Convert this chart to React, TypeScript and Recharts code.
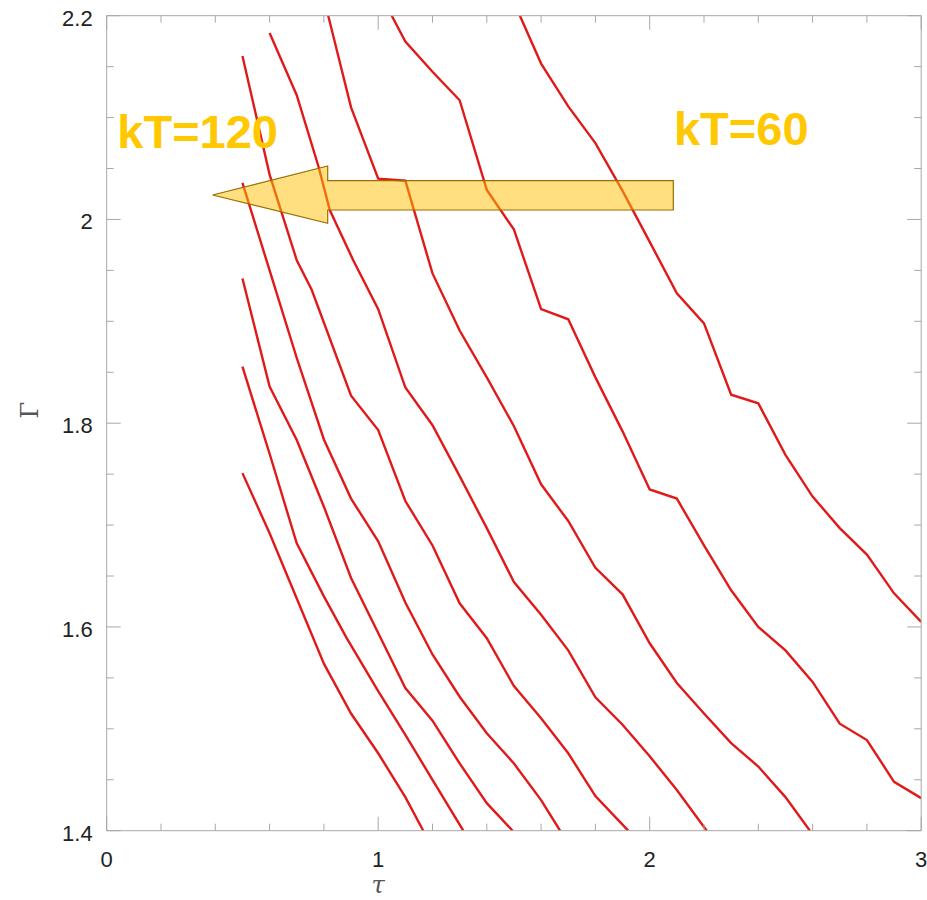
import React from 'react';
import { LineChart, Line, XAxis, YAxis, ReferenceArea, ReferenceDot } from 'recharts';

// ---------- data (tau, Gamma) ----------
const curveKT120: number[][] = [[0.5,1.751],[0.6,1.692],[0.7,1.628],[0.8,1.564],[0.9,1.515],[1.0,1.476],[1.1,1.433],[1.166,1.4]];
const curveKT112: number[][] = [[0.5,1.8555],[0.6,1.77],[0.7,1.682],[0.8,1.63],[0.884,1.589],[1.0,1.537],[1.1,1.494],[1.2,1.45],[1.3135,1.4]];
const curveKT105: number[][] = [[0.5,1.942],[0.6,1.836],[0.7,1.7835],[0.8,1.718],[0.9,1.648],[1.0,1.594],[1.1,1.54],[1.2,1.508],[1.3,1.466],[1.4,1.427],[1.495,1.4]];
const curveKT97: number[][] = [[0.5,2.036],[0.6,1.95],[0.7,1.864],[0.8,1.784],[0.9,1.726],[1.0,1.684],[1.1,1.624],[1.2,1.573],[1.3,1.5315],[1.4,1.4956],[1.5,1.466],[1.6,1.43],[1.67,1.4]];
const curveKT90: number[][] = [[0.5,2.1604],[0.6,2.044],[0.7,1.96],[0.755,1.931],[0.9,1.827],[1.0,1.7933],[1.1,1.7236],[1.2,1.68],[1.3,1.6232],[1.4,1.5889],[1.5,1.542],[1.6,1.5103],[1.7,1.476],[1.8,1.434],[1.921,1.4]];
const curveKT82: number[][] = [[0.6,2.183],[0.7,2.122],[0.78,2.052],[0.822,2.009],[0.908,1.96],[1.0,1.912],[1.1,1.835],[1.2,1.798],[1.3,1.748],[1.4,1.697],[1.5,1.644],[1.6,1.612],[1.7,1.577],[1.8,1.531],[1.9,1.504],[2.0,1.473],[2.1,1.44],[2.21,1.4]];
const curveKT75: number[][] = [[0.816,2.2],[0.9,2.11],[1.0,2.04],[1.1,2.038],[1.2,1.947],[1.3,1.891],[1.4,1.845],[1.5,1.797],[1.6,1.74],[1.7,1.704],[1.8,1.658],[1.9,1.632],[2.0,1.584],[2.1,1.545],[2.2,1.515],[2.3,1.486],[2.4,1.463],[2.5,1.433],[2.59,1.4]];
const curveKT67: number[][] = [[1.05,2.2],[1.1,2.1745],[1.2,2.145],[1.3,2.117],[1.4,2.029],[1.5,1.99],[1.6,1.912],[1.7,1.902],[1.8,1.845],[1.9,1.792],[2.0,1.735],[2.1,1.726],[2.2,1.68],[2.3,1.636],[2.4,1.6],[2.5,1.577],[2.6,1.546],[2.7,1.505],[2.8,1.489],[2.9,1.448],[3.0,1.432]];
const curveKT60: number[][] = [[1.522,2.2],[1.6,2.153],[1.7,2.111],[1.8,2.075],[1.9,2.028],[2.0,1.978],[2.1,1.9275],[2.2,1.898],[2.3,1.828],[2.4,1.8195],[2.5,1.769],[2.6,1.728],[2.7,1.697],[2.8,1.671],[2.9,1.633],[3.0,1.605]];

const curves = [curveKT120, curveKT112, curveKT105, curveKT97, curveKT90, curveKT82, curveKT75, curveKT67, curveKT60];

const xTicks = [0, 0.2, 0.4, 0.6, 0.8, 1, 1.2, 1.4, 1.6, 1.8, 2, 2.2, 2.4, 2.6, 2.8, 3];
const xMajor = [0, 1, 2, 3];
const xLabels = ['0', '1', '2', '3'];
const yTicks = [1.4, 1.45, 1.5, 1.55, 1.6, 1.65, 1.7, 1.75, 1.8, 1.85, 1.9, 1.95, 2, 2.05, 2.1, 2.15, 2.2];
const yMajor = [1.4, 1.6, 1.8, 2, 2.2];
const yLabels = ['1.4', '1.6', '1.8', '2', '2.2'];

// arrow annotation (data units)
const arrowTau = { tip: 0.39, headBase: 0.814, end: 2.087 };
const arrowGamma = { tip: 2.024, headTop: 2.0525, headBottom: 1.9962, shaftTop: 2.0382, shaftBottom: 2.0093 };
const textAnnotations = [
  { tau: 0.039, gamma: 2.0698, text: 'kT=120' },
  { tau: 2.0895, gamma: 2.073, text: 'kT=60' },
];

const FRAME = '#a8a8a8';
const LABEL = '#222';
const FONT = '"Liberation Sans", Arial, Helvetica, sans-serif';

const idx = (arr: number[], v: number) => arr.findIndex((m) => Math.abs(m - v) < 1e-6);

const BottomTick = (p: any) => {
  const { x, y, payload } = p;
  const i = idx(xMajor, payload.value);
  const major = i >= 0;
  return (
    <g>
      <line x1={x} x2={x} y1={y} y2={y - (major ? 14 : 7)} stroke={FRAME} strokeWidth={1} />
      {major && (
        <text x={x} y={y + 36} textAnchor="middle" fontSize={22} fontFamily={FONT} fill={LABEL}>{xLabels[i]}</text>
      )}
    </g>
  );
};
const TopTick = (p: any) => {
  const { x, payload, plotTop } = p;
  const major = idx(xMajor, payload.value) >= 0;
  return <line x1={x} x2={x} y1={plotTop} y2={plotTop + (major ? 14 : 7)} stroke={FRAME} strokeWidth={1} />;
};
const LeftTick = (p: any) => {
  const { x, y, payload } = p;
  const i = idx(yMajor, payload.value);
  const major = i >= 0;
  return (
    <g>
      <line x1={x} x2={x + (major ? 14 : 7)} y1={y} y2={y} stroke={FRAME} strokeWidth={1} />
      {major && (
        <text x={x - 14} y={y + 10} textAnchor="end" fontSize={22} fontFamily={FONT} fill={LABEL}>{yLabels[i]}</text>
      )}
    </g>
  );
};
const RightTick = (p: any) => {
  const { y, payload, plotRight } = p;
  const major = idx(yMajor, payload.value) >= 0;
  return <line x1={plotRight} x2={plotRight - (major ? 14 : 7)} y1={y} y2={y} stroke={FRAME} strokeWidth={1} />;
};

const ArrowShape = (p: any) => {
  const { x, y, width, height } = p;
  const x1 = arrowTau.tip, x2 = arrowTau.end;
  const yTop = arrowGamma.headTop, yBot = arrowGamma.headBottom;
  const px = (v: number) => x + ((v - x1) / (x2 - x1)) * width;
  const py = (v: number) => y + ((yTop - v) / (yTop - yBot)) * height;
  const pts = [
    [px(arrowTau.tip), py(arrowGamma.tip)],
    [px(arrowTau.headBase), py(arrowGamma.headTop)],
    [px(arrowTau.headBase), py(arrowGamma.shaftTop)],
    [px(arrowTau.end), py(arrowGamma.shaftTop)],
    [px(arrowTau.end), py(arrowGamma.shaftBottom)],
    [px(arrowTau.headBase), py(arrowGamma.shaftBottom)],
    [px(arrowTau.headBase), py(arrowGamma.headBottom)],
  ];
  return (
    <polygon
      points={pts.map((q) => q.join(',')).join(' ')}
      fill="rgba(255,192,0,0.5)"
      stroke="#9a6e00"
      strokeWidth={1.2}
    />
  );
};

const makeTextShape = (text: string) => (p: any) => (
  <text x={p.cx} y={p.cy} fontSize={47} fontWeight="bold" fontFamily={FONT} fill="#FFC800">{text}</text>
);

const XTitle = (p: any) => {
  const vb = p.viewBox;
  return (
    <text x={vb.x + vb.width / 3} y={vb.y + 62} textAnchor="middle" fontSize={24} fontStyle="italic" fontFamily='"DejaVu Serif", serif' fill="#555">τ</text>
  );
};
const YTitle = (p: any) => {
  const vb = p.viewBox;
  const cx = vb.x + 30;
  const cy = vb.y + vb.height / 2 - 13;
  return (
    <text x={cx} y={cy} textAnchor="middle" fontSize={24} fontFamily='"DejaVu Serif", serif' fill="#555" transform={`rotate(-90 ${cx} ${cy})`} dy="0.35em">Γ</text>
  );
};

const W = 927, H = 900;
const M = { top: 14.7, right: 4.8, bottom: 0, left: 0 };
const PLOT_TOP = 15.7;
const PLOT_RIGHT = 921.2;

export default function App() {
  return (
    <div style={{ position: 'absolute', left: 0, top: 0, width: W, height: H }}>
      <LineChart width={W} height={H} margin={M}>
        <XAxis
          type="number"
          dataKey="x"
          domain={[0, 3]}
          allowDataOverflow
          ticks={xTicks}
          interval={0}
          height={69.3}
          tickSize={0}
          tickMargin={0}
          tickLine={false}
          axisLine={{ stroke: FRAME }}
          tick={<BottomTick />}
          label={<XTitle />}
        />
        <XAxis
          xAxisId="top"
          orientation="top"
          type="number"
          dataKey="x"
          domain={[0, 3]}
          allowDataOverflow
          ticks={xTicks}
          interval={0}
          height={1}
          tickSize={0}
          tickMargin={0}
          tickLine={false}
          axisLine={{ stroke: FRAME }}
          tick={<TopTick plotTop={PLOT_TOP} />}
        />
        <YAxis
          type="number"
          domain={[1.4, 2.2]}
          allowDataOverflow
          ticks={yTicks}
          interval={0}
          width={106.7}
          tickSize={0}
          tickMargin={0}
          tickLine={false}
          axisLine={{ stroke: FRAME }}
          tick={<LeftTick />}
          label={<YTitle />}
        />
        <YAxis
          yAxisId="right"
          orientation="right"
          type="number"
          domain={[1.4, 2.2]}
          allowDataOverflow
          ticks={yTicks}
          interval={0}
          width={1}
          tickSize={0}
          tickMargin={0}
          tickLine={false}
          axisLine={{ stroke: FRAME }}
          tick={<RightTick plotRight={PLOT_RIGHT} />}
        />
        {curves.map((c, i) => {
          const last = i === curves.length - 1;
          return (
            <Line
              key={i}
              xAxisId={last ? 'top' : 0}
              yAxisId={last ? 'right' : 0}
              data={c.map(([x, y]) => ({ x, y }))}
              dataKey="y"
              type="linear"
              stroke="#e01a1a"
              strokeWidth={2.4}
              dot={false}
              activeDot={false}
              isAnimationActive={false}
            />
          );
        })}
        <ReferenceArea
          x1={arrowTau.tip}
          x2={arrowTau.end}
          y1={arrowGamma.headBottom}
          y2={arrowGamma.headTop}
          shape={<ArrowShape />}
          zIndex={450}
        />
        {textAnnotations.map((t) => (
          <ReferenceDot key={t.text} x={t.tau} y={t.gamma} r={0} shape={makeTextShape(t.text)} zIndex={460} />
        ))}
      </LineChart>
    </div>
  );
}
